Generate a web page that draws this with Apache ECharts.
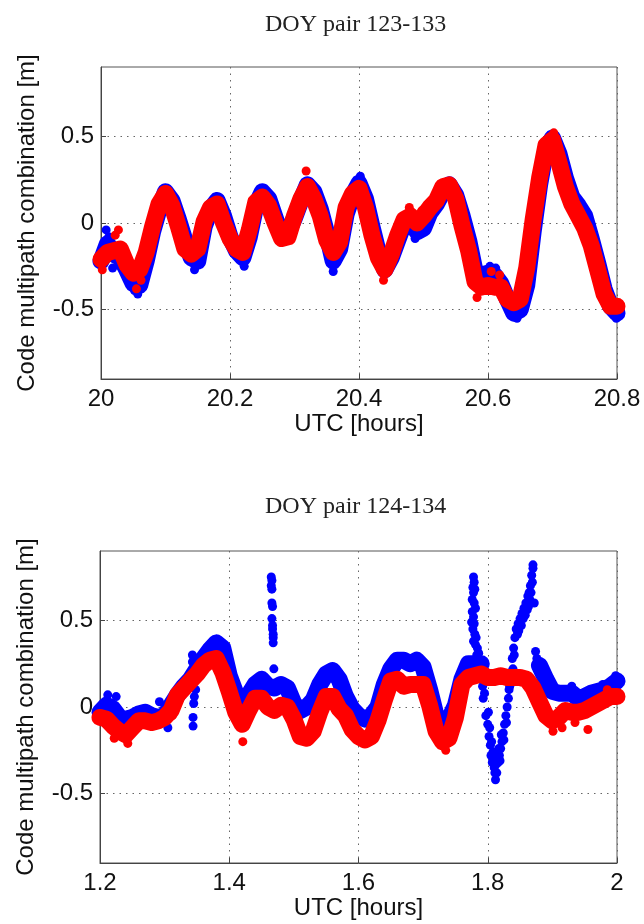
<!DOCTYPE html>
<html>
<head>
<meta charset="utf-8">
<script src="https://cdn.jsdelivr.net/npm/echarts@6/dist/echarts.min.js"></script>
<style>
  html, body { margin: 0; padding: 0; background: #fff; }
  #chart { width: 644px; height: 924px; }
</style>
</head>
<body>
<div id="chart"></div>
<script>
// ===== Values =====
// band centres sampled every 0.01 h
const STEP = 0.01;
const topStart = 20.0;
const bottomStart = 1.2;
const yTicks = [-0.5, 0, 0.5];

const topTitle = 'DOY pair 123-133';
const bottomTitle = 'DOY pair 124-134';

// DOY 123-133, 20.00 .. 20.80 h
const blueTop = [
  -0.22, -0.12, -0.18, -0.20, -0.27, -0.35, -0.36, -0.22, -0.05, 0.08,
   0.18,  0.13,  0.02, -0.10, -0.20, -0.22, -0.02,  0.08,  0.13, 0.04,
  -0.08, -0.16, -0.20, -0.08,  0.10,  0.18,  0.14,  0.03, -0.08, -0.05,
   0.03,  0.13,  0.22,  0.18,  0.08, -0.06, -0.22, -0.15,  0.05, 0.16,
   0.23,  0.14, -0.02, -0.17, -0.27, -0.20, -0.10,  0.00,  0.02, -0.05,
  -0.03,  0.06,  0.11,  0.18,  0.22,  0.16,  0.04, -0.10, -0.28, -0.30,
  -0.29, -0.30, -0.35, -0.44, -0.52, -0.50, -0.36, -0.05,  0.22, 0.43,
   0.49,  0.40,  0.26,  0.15,  0.10,  0.04, -0.09, -0.23, -0.38, -0.48,
  -0.52
];
const redTop = [
  -0.21, -0.17, -0.16, -0.15, -0.24, -0.29, -0.27, -0.17, -0.02, 0.11,
   0.17,  0.10, -0.02, -0.15, -0.18, -0.15,  0.01,  0.09,  0.11, 0.00,
  -0.09, -0.15, -0.17, -0.04,  0.12,  0.15,  0.10,  0.00, -0.09, -0.08,
   0.04,  0.14,  0.21,  0.14,  0.04, -0.10, -0.17, -0.11,  0.09, 0.17,
   0.20,  0.09, -0.07, -0.20, -0.27, -0.18, -0.07,  0.02,  0.04, 0.00,
   0.04,  0.09,  0.13,  0.21,  0.22,  0.14, -0.02, -0.16, -0.34, -0.37,
  -0.36, -0.37, -0.37, -0.44, -0.46, -0.44, -0.26,  0.02,  0.26, 0.45,
   0.48,  0.35,  0.21,  0.11,  0.04, -0.03, -0.13, -0.27, -0.41, -0.48,
  -0.48
];
// scattered single points around the bands
const blueTopDots = [
  [20.008, -0.04], [20.012, -0.08], [20.018, -0.26], [20.057, -0.41], [20.052, -0.39],
  [20.145, -0.27], [20.222, -0.25], [20.360, -0.28], [20.402, 0.27], [20.487, -0.09],
  [20.603, -0.25], [20.612, -0.26], [20.645, -0.55], [20.799, -0.55]
];
const redTopDots = [
  [20.027, -0.04], [20.022, -0.07], [20.002, -0.27], [20.055, -0.38], [20.062, -0.33],
  [20.318, 0.30], [20.438, -0.33], [20.478, 0.09], [20.497, 0.07], [20.583, -0.43],
  [20.605, -0.28], [20.618, -0.30], [20.702, 0.52], [20.801, -0.42]
];

// DOY 124-134, 1.20 .. 2.00 h
const blueBottom = [
  -0.03,  0.01, -0.01, -0.06, -0.07, -0.06, -0.04, -0.03, -0.05, -0.06,
  -0.05,  0.01,  0.07,  0.12,  0.16,  0.22,  0.28,  0.33,  0.37, 0.34,
   0.18,  0.08,  0.02,  0.07,  0.13,  0.16,  0.12,  0.11,  0.13, 0.11,
   0.02, -0.02,  0.00,  0.04,  0.13,  0.19,  0.21,  0.16,  0.06, -0.01,
  -0.05, -0.07, -0.05,  0.00,  0.13,  0.22,  0.27,  0.27,  0.25, 0.27,
   0.23,  0.10, -0.05, -0.11, -0.07,  0.01,  0.16,  0.25,  0.25, 0.25,
   null,  null,  null,  null,  null,  null,  null,  null,  0.24, 0.16,
   0.09,  0.08,  0.08,  0.08,  0.05,  0.06,  0.08,  0.09,  0.10, 0.12,
   0.15
];
const redBottom = [
  -0.06, -0.07, -0.11, -0.14, -0.16, -0.12, -0.08, -0.08, -0.09, -0.08,
  -0.06, -0.02,  0.07,  0.11,  0.15,  0.19,  0.24,  0.27,  0.28, 0.20,
   0.09, -0.03, -0.10, -0.02,  0.05,  0.05,  0.00, -0.02,  0.01, 0.00,
  -0.07, -0.17, -0.18, -0.14, -0.03,  0.06,  0.06, -0.01, -0.05, -0.13,
  -0.17, -0.19, -0.17, -0.08,  0.04,  0.15,  0.16,  0.12,  0.13, 0.13,
   0.13,  0.01, -0.14, -0.20, -0.18, -0.06,  0.13,  0.17,  0.18, 0.19,
   0.17,  0.17,  0.18,  0.17,  0.17,  0.17,  0.16,  0.11,  0.03, -0.05,
  -0.08, -0.06, -0.02, -0.03, -0.03, -0.02,  0.00,  0.02,  0.04, 0.06,
   0.06
];
// blue outliers, spikes and the V excursion near 1.8 h
const blueBottomDots = [
  [1.212, 0.07], [1.225, 0.06], [1.292, 0.03], [1.305, -0.12], [1.315, 0.08],
  [1.343, 0.30], [1.343, 0.26], [1.344, -0.11], [1.344, -0.06], [1.345, 0.02], [1.346, 0.06],
  [1.340, 0.18], [1.348, 0.10],
  [1.465, 0.75], [1.466, 0.73], [1.465, 0.70], [1.466, 0.68], [1.466, 0.60], [1.467, 0.58],
  [1.466, 0.51], [1.467, 0.47], [1.467, 0.45], [1.468, 0.42], [1.468, 0.40], [1.468, 0.37], [1.469, 0.22],
  [1.778, 0.75], [1.779, 0.72], [1.777, 0.69], [1.778, 0.66], [1.776, 0.62], [1.779, 0.60],
  [1.776, 0.55], [1.778, 0.52], [1.775, 0.49], [1.777, 0.45], [1.780, 0.42], [1.778, 0.38],
  [1.781, 0.36], [1.782, 0.40], [1.783, 0.30], [1.786, 0.31], [1.788, 0.27],
  [1.780, 0.68], [1.781, 0.57], [1.779, 0.48], [1.784, 0.34],
  [1.790, 0.20], [1.792, 0.12], [1.793, 0.05], [1.795, 0.08], [1.797, -0.05], [1.800, -0.10],
  [1.802, -0.17], [1.804, -0.22], [1.805, -0.28], [1.807, -0.32], [1.808, -0.26], [1.810, -0.35],
  [1.811, -0.38], [1.812, -0.42], [1.814, -0.38], [1.816, -0.32], [1.818, -0.28], [1.820, -0.24],
  [1.822, -0.20], [1.824, -0.15], [1.826, -0.10], [1.828, -0.05], [1.830, 0.00], [1.832, 0.05],
  [1.834, 0.12], [1.836, 0.20], [1.838, 0.28], [1.840, 0.34], [1.842, 0.40], [1.844, 0.45],
  [1.847, 0.48], [1.850, 0.51], [1.853, 0.54], [1.856, 0.57], [1.859, 0.60], [1.862, 0.64],
  [1.864, 0.66], [1.866, 0.70], [1.868, 0.76], [1.870, 0.80], [1.870, 0.82], [1.872, 0.60],
  [1.874, 0.32], [1.876, 0.28],
  [1.809, -0.30], [1.817, -0.24], [1.821, -0.16], [1.833, 0.10], [1.839, 0.22], [1.846, 0.42],
  [1.852, 0.47], [1.858, 0.53], [1.861, 0.56], [1.865, 0.62], [1.801, -0.03], [1.806, -0.20],
  [1.813, -0.33], [1.819, -0.31], [1.825, -0.19], [1.829, -0.09], [1.835, 0.16], [1.841, 0.30],
  [1.848, 0.44], [1.855, 0.51], [1.863, 0.58], [1.867, 0.66], [1.869, 0.72], [1.803, -0.12],
  [1.930, 0.12], [1.978, 0.13], [1.998, 0.18]
];
const redBottomDots = [
  [1.421, -0.20], [1.955, -0.13], [1.901, -0.14], [1.735, -0.25], [1.243, -0.21],
  [1.222, -0.18], [1.312, -0.05], [1.915, -0.12], [1.935, -0.09], [1.985, 0.10]
];

// ===== Chart =====
const SANS = 'Liberation Sans, Arial, sans-serif';
const SERIF = 'Liberation Serif, Times New Roman, serif';

function pairs(start, vals){ return vals.map((v, i) => [+(start + i * STEP).toFixed(3), v]); }

function xAxisOpt(grid, min, max){
  return {
    gridIndex: grid, type: 'value', min, max, interval: 0.2,
    name: 'UTC [hours]', nameLocation: 'middle', nameGap: 33,
    nameTextStyle: { fontFamily: SANS, fontSize: 24, color: '#111' },
    axisLine: { onZero: false, lineStyle: { color: '#444', width: 1 } },
    axisTick: { inside: true, length: 5, lineStyle: { color: '#444' } },
    axisLabel: { fontFamily: SANS, fontSize: 24, color: '#111', margin: 8,
      formatter: v => String(+v.toFixed(1)) },
    splitLine: { show: true, lineStyle: { color: '#666', type: [1.5, 5], width: 1 } }
  };
}
function yAxisOpt(grid){
  return {
    gridIndex: grid, type: 'value', min: -0.9, max: 0.9,
    name: 'Code multipath combination [m]', nameLocation: 'middle', nameGap: 62,
    nameTextStyle: { fontFamily: SANS, fontSize: 24, color: '#111' },
    axisLine: { onZero: false, lineStyle: { color: '#444', width: 1 } },
    axisTick: { inside: true, length: 5, customValues: yTicks, lineStyle: { color: '#444' } },
    axisLabel: { fontFamily: SANS, fontSize: 24, color: '#111', margin: 7, customValues: yTicks,
      formatter: v => String(v) },
    splitLine: { show: true, lineStyle: { color: '#666', type: [1.5, 5], width: 1 } }
  };
}
function band(idx, data, color, z){
  return { type: 'line', xAxisIndex: idx, yAxisIndex: idx, data, showSymbol: false, z,
    connectNulls: false, silent: true,
    lineStyle: { color, width: 17, cap: 'round', join: 'round' } };
}
function dots(idx, data, color, z){
  return { type: 'scatter', xAxisIndex: idx, yAxisIndex: idx, data, symbolSize: 9, z,
    itemStyle: { color, opacity: 1 } };
}

const chart = echarts.init(document.getElementById('chart'), null, { renderer: 'canvas' });
chart.setOption({
  animation: false,
  backgroundColor: '#fff',
  title: [
    { text: topTitle, left: 260, top: 8, textStyle: { fontFamily: SERIF, fontSize: 24, fontWeight: 'normal', color: '#222' } },
    { text: bottomTitle, left: 260, top: 490, textStyle: { fontFamily: SERIF, fontSize: 24, fontWeight: 'normal', color: '#222' } }
  ],
  grid: [
    { left: 101, top: 67, width: 516, height: 312, show: true, borderColor: '#555', borderWidth: 1 },
    { left: 100, top: 551, width: 517, height: 312, show: true, borderColor: '#555', borderWidth: 1 }
  ],
  xAxis: [ xAxisOpt(0, 20, 20.8), xAxisOpt(1, 1.2, 2) ],
  yAxis: [ yAxisOpt(0), yAxisOpt(1) ],
  series: [
    band(0, pairs(topStart, blueTop), '#0000ff', 2),
    dots(0, blueTopDots, '#0000ff', 2),
    band(0, pairs(topStart, redTop), '#ff0000', 3),
    dots(0, redTopDots, '#ff0000', 3),
    band(1, pairs(bottomStart, blueBottom), '#0000ff', 2),
    dots(1, blueBottomDots, '#0000ff', 2),
    band(1, pairs(bottomStart, redBottom), '#ff0000', 3),
    dots(1, redBottomDots, '#ff0000', 3)
  ]
});
</script>
</body>
</html>
